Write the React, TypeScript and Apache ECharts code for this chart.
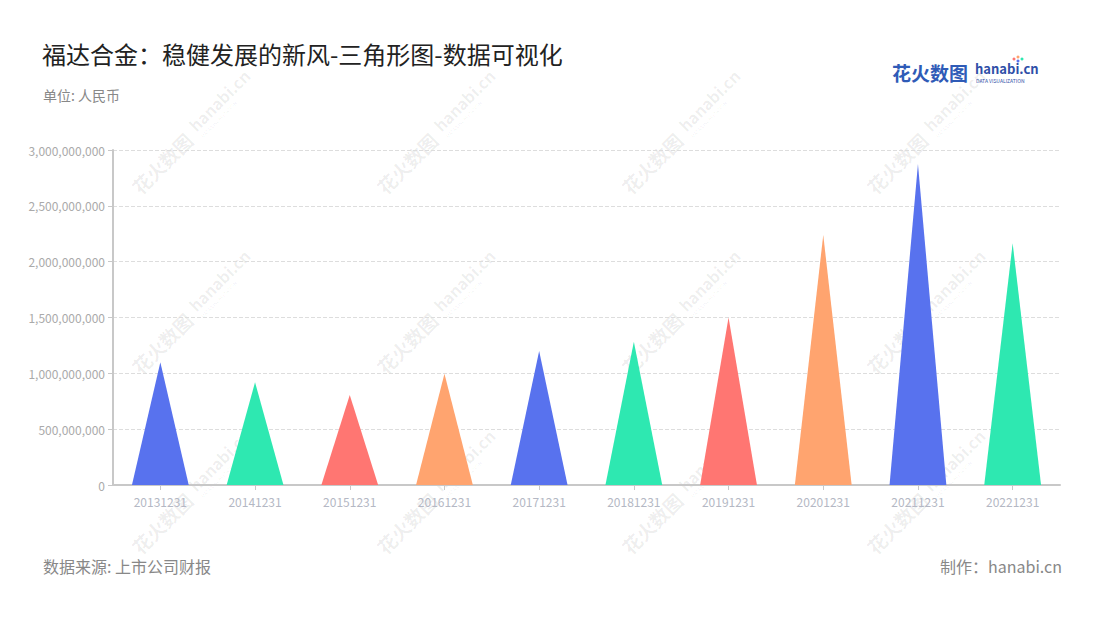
import React, { useEffect, useRef } from "react";
import * as echarts from "echarts";

const categories = [
  "20131231", "20141231", "20151231", "20161231", "20171231",
  "20181231", "20191231", "20201231", "20211231", "20221231",
];
const values = [
  1100000000, 920000000, 805000000, 995000000, 1200000000,
  1283000000, 1500000000, 2240000000, 2875000000, 2165000000,
];
const palette = ["#5872EE", "#2EE8B1", "#FF7672", "#FFA46F"];
const yTicks = [0, 500000000, 1000000000, 1500000000, 2000000000, 2500000000, 3000000000];

const FONT = "'Noto Sans CJK SC', 'Noto Sans', sans-serif";

function watermark(x: number, y: number) {
  const fill = "rgba(0,0,0,0.07)";
  return {
    type: "group",
    x,
    y,
    rotation: Math.PI / 4,
    silent: true,
    z: 0,
    children: [
      {
        type: "text",
        x: 0,
        y: 0,
        style: {
          text: "花火数图",
          fill,
          font: `bold 19px ${FONT}`,
          textVerticalAlign: "middle",
        },
      },
      {
        type: "text",
        x: 84,
        y: -4,
        style: {
          text: "hanabi.cn",
          fill,
          font: `bold 16px ${FONT}`,
          textVerticalAlign: "middle",
        },
      },
      {
        type: "text",
        x: 85,
        y: 9,
        style: {
          text: "DATA VISUALIZATION",
          fill,
          font: `5px ${FONT}`,
          textVerticalAlign: "middle",
        },
      },
    ],
  };
}

export default function App() {
  const ref = useRef<HTMLDivElement>(null);
  useEffect(() => {
    document.body.style.margin = "0";
    const chart = echarts.init(ref.current!, null, { renderer: "svg" });
    const marks: any[] = [];
    const cols = [135, 380, 625, 870];
    const rows = [190, 370, 550];
    cols.forEach((cx) => rows.forEach((ry) => marks.push(watermark(cx, ry))));

    chart.setOption({
      animation: false,
      backgroundColor: "#ffffff",
      textStyle: { fontFamily: FONT },
      title: [
        {
          text: "福达合金：稳健发展的新风-三角形图-数据可视化",
          left: 37,
          top: 36,
          textStyle: { fontSize: 24, fontWeight: "normal", color: "#222222", fontFamily: FONT },
        },
        {
          text: "单位: 人民币",
          left: 38,
          top: 83,
          textStyle: { fontSize: 14, fontWeight: "normal", color: "#888888", fontFamily: FONT },
        },
        {
          text: "数据来源: 上市公司财报",
          left: 38,
          top: 553,
          textStyle: { fontSize: 16, fontWeight: "normal", color: "#888888", fontFamily: FONT },
        },
        {
          text: "制作：hanabi.cn",
          right: 33,
          top: 553,
          textStyle: { fontSize: 16, fontWeight: "normal", color: "#888888", fontFamily: FONT },
        },
      ],
      graphic: [
        ...marks,
        {
          type: "text",
          x: 892,
          y: 72,
          style: {
            text: "花火数图",
            fill: "#2F5BB7",
            font: `bold 19px ${FONT}`,
            textVerticalAlign: "middle",
          },
        },
        {
          type: "text",
          x: 975,
          y: 68,
          style: {
            text: "hanabi.cn",
            fill: "#2F4FA8",
            font: `bold 13px ${FONT}`,
            textVerticalAlign: "middle",
          },
        },
        {
          type: "text",
          x: 976,
          y: 80,
          style: {
            text: "DATA VISUALIZATION",
            fill: "#2F4FA8",
            font: `5px ${FONT}`,
            textVerticalAlign: "middle",
          },
        },
        { type: "circle", shape: { cx: 1014, cy: 59, r: 1.5 }, style: { fill: "#FF7672" } },
        { type: "circle", shape: { cx: 1018, cy: 57, r: 1.5 }, style: { fill: "#FFA46F" } },
        { type: "circle", shape: { cx: 1022, cy: 59, r: 1.5 }, style: { fill: "#2EE8B1" } },
        { type: "circle", shape: { cx: 1018, cy: 61, r: 1.5 }, style: { fill: "#5872EE" } },
      ],
      grid: { left: 113, right: 40, top: 150, bottom: 135, containLabel: false },
      xAxis: {
        type: "category",
        data: categories,
        axisLine: { show: true, lineStyle: { color: "#c8c8c8", width: 2 } },
        axisTick: { show: true, alignWithLabel: true, lineStyle: { color: "#c8c8c8" } },
        axisLabel: { color: "#b4b8c4", fontSize: 12, margin: 10, fontFamily: FONT },
      },
      yAxis: {
        type: "value",
        min: 0,
        max: 3000000000,
        interval: 500000000,
        axisLine: { show: true, lineStyle: { color: "#c8c8c8", width: 2 } },
        axisTick: { show: true, lineStyle: { color: "#c8c8c8" } },
        axisLabel: {
          color: "#aaaaaa",
          fontSize: 12,
          margin: 8,
          fontFamily: FONT,
          formatter: (v: number) => {
            const found = yTicks.find((t) => t === v);
            return (found ?? v).toLocaleString("en-US");
          },
        },
        splitLine: { show: true, lineStyle: { color: "#dddddd", type: "dashed" } },
      },
      series: [
        {
          type: "pictorialBar",
          symbol: "triangle",
          barWidth: "60%",
          symbolSize: ["100%", "100%"],
          z: 10,
          data: values.map((v, i) => ({
            value: v,
            itemStyle: { color: palette[i % palette.length], opacity: 1 },
          })),
        },
      ],
    });
    return () => chart.dispose();
  }, []);
  return (
    <div
      ref={ref}
      style={{ width: 1100, height: 620, position: "absolute", left: 0, top: 0 }}
    />
  );
}
